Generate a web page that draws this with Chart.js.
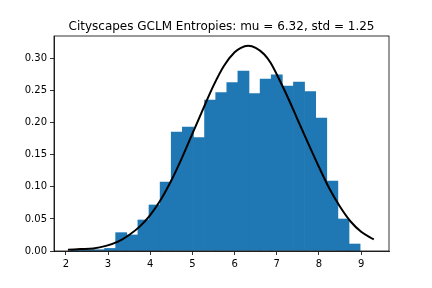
<!DOCTYPE html>
<html>
<head>
<meta charset="utf-8">
<script src="https://cdn.jsdelivr.net/npm/chart.js@4"></script>
<style>
  html, body { margin: 0; padding: 0; background: #fff; }
</style>
</head>
<body>
<canvas id="myChart" width="432" height="288"></canvas>
<script>
const binCenters = [2.260, 2.523, 2.787, 3.050, 3.313, 3.577, 3.840, 4.103, 4.367, 4.630,
    4.894, 5.157, 5.420, 5.684, 5.947, 6.210, 6.474, 6.737, 7.000, 7.264,
    7.527, 7.791, 8.054, 8.317, 8.581, 8.844];
const density = [0.0015, 0.002, 0.002, 0.004, 0.0286, 0.025, 0.0484, 0.0718, 0.1076, 0.1856,
    0.1934, 0.1768, 0.2356, 0.247, 0.2626, 0.2808, 0.2454, 0.2683, 0.275, 0.2574,
    0.2636, 0.2486, 0.2075, 0.1092, 0.0499, 0.0109];

// fitted curve
const curveX = [2.05, 2.35, 2.65, 2.95, 3.25, 3.5, 3.75, 4.0, 4.25, 4.5, 4.75, 5.0, 5.25, 5.5,
    5.75, 6.0, 6.15, 6.32, 6.5, 6.7, 6.85, 7.1, 7.3, 7.5, 7.75, 8.0, 8.25, 8.5, 8.75, 9.0, 9.3];
const curveY = [0.002, 0.003, 0.004, 0.008, 0.015, 0.025, 0.038, 0.056, 0.080, 0.110, 0.145,
    0.183, 0.221, 0.258, 0.289, 0.310, 0.317, 0.320, 0.317, 0.307, 0.294, 0.262, 0.234,
    0.204, 0.167, 0.131, 0.097, 0.069, 0.046, 0.030, 0.018];

const title = 'Cityscapes GCLM Entropies: mu = 6.32, std = 1.25';
const xTicks = [2, 3, 4, 5, 6, 7, 8, 9];
const yTicks = [0, 0.05, 0.10, 0.15, 0.20, 0.25, 0.30];

const font = { family: 'DejaVu Sans', size: 10 };

// axes box and title centred over the plot area, like matplotlib
const frame = {
    id: 'frame',
    afterDatasetsDraw(chart) {
        const a = chart.chartArea;
        const ctx = chart.ctx;
        ctx.save();
        ctx.strokeStyle = '#000';
        ctx.lineWidth = 0.8;
        ctx.strokeRect(a.left, a.top, a.right - a.left, a.bottom - a.top);
        ctx.fillStyle = '#000';
        ctx.font = '12px "DejaVu Sans"';
        ctx.textAlign = 'center';
        ctx.textBaseline = 'alphabetic';
        ctx.fillText(title, (a.left + a.right) / 2, 30);
        ctx.restore();
    }
};

const data = {
    datasets: [{
        type: 'line',
        data: curveX.map((x, i) => ({ x: x, y: curveY[i] })),
        borderColor: '#000',
        borderWidth: 2,
        pointRadius: 0,
        cubicInterpolationMode: 'monotone',
        fill: false,
        order: 0
    }, {
        type: 'bar',
        data: binCenters.map((x, i) => ({ x: x, y: density[i] })),
        backgroundColor: '#1f77b4',
        borderWidth: 0,
        barPercentage: 1,
        categoryPercentage: 1,
        order: 1
    }]
};

const tickGrid = {
    display: true, offset: false, drawOnChartArea: false, drawTicks: true,
    tickLength: 4, tickColor: '#000', tickWidth: 0.8
};

const config = {
    type: 'bar',
    data: data,
    plugins: [frame],
    options: {
        responsive: false,
        animation: false,
        devicePixelRatio: 1,
        layout: { padding: { left: 0, right: 43, top: 36, bottom: 0 } },
        plugins: {
            legend: { display: false },
            tooltip: { enabled: false },
            title: { display: false }
        },
        scales: {
            x: {
                type: 'linear',
                min: 1.72,
                max: 9.66,
                offset: false,
                afterBuildTicks: s => { s.ticks = xTicks.map(v => ({ value: v })); },
                afterFit: s => { s.height = 37; },
                grid: tickGrid,
                border: { display: true, color: '#000', width: 0.8 },
                ticks: { color: '#000', font: font, padding: 3, maxRotation: 0, autoSkip: false }
            },
            y: {
                min: 0,
                max: 0.3354,
                afterBuildTicks: s => { s.ticks = yTicks.map(v => ({ value: v })); },
                afterFit: s => { s.width = 54; },
                grid: tickGrid,
                border: { display: true, color: '#000', width: 0.8 },
                ticks: { color: '#000', font: font, padding: 3, callback: v => v.toFixed(2) }
            }
        }
    }
};

const myChart = new Chart(document.getElementById('myChart'), config);
</script>
</body>
</html>
